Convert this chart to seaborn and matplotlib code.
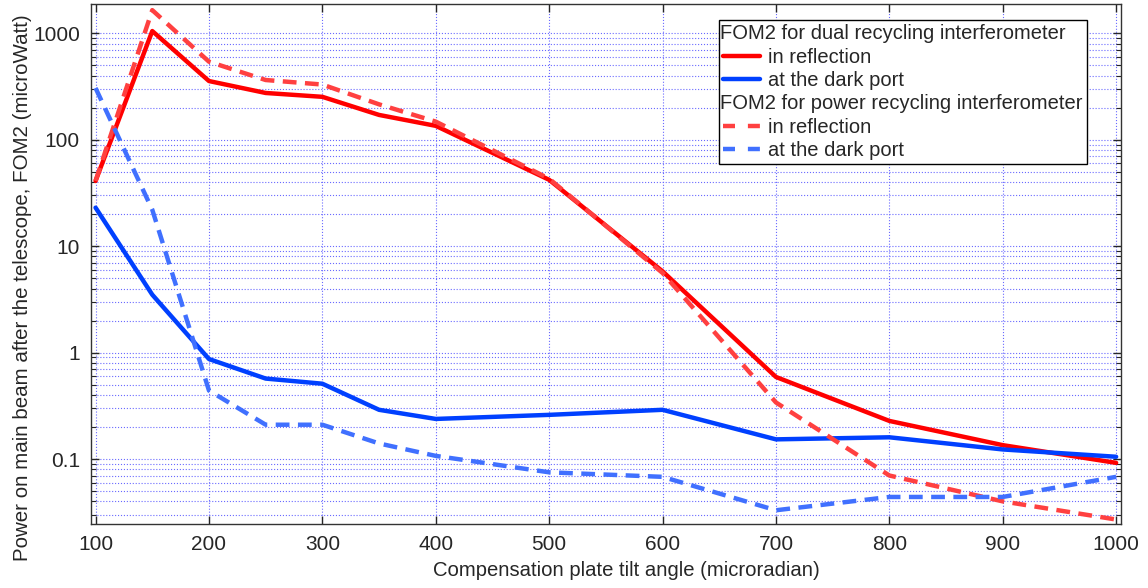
import numpy as np
import pandas as pd
import seaborn as sns
import matplotlib.pyplot as plt
from matplotlib.lines import Line2D
from matplotlib.ticker import LogLocator, FixedLocator, FuncFormatter, NullFormatter

# tilt angles (microradian)
tilt = [100, 150, 200, 250, 300, 350, 400, 500, 600, 700, 800, 900, 1000]

# FOM2, dual recycling interferometer
dual_refl = [41, 1050, 356, 275, 253, 171, 135, 42, 5.8, 0.59, 0.228, 0.135, 0.092]
dual_dark = [23, 3.5, 0.87, 0.57, 0.51, 0.29, 0.238, 0.26, 0.29, 0.153, 0.160, 0.123, 0.105]

# FOM2, power recycling interferometer
pr_refl = [41, 1650, 541, 364, 330, 215, 148, 43, 5.6, 0.34, 0.070, 0.040, 0.027]
pr_dark = [306, 22, 0.44, 0.21, 0.21, 0.14, 0.107, 0.075, 0.068, 0.033, 0.044, 0.044, 0.068]

sns.set_style("ticks")
plt.rcParams['font.family'] = ['Liberation Sans', 'DejaVu Sans']

fig = plt.figure(figsize=(11.48, 5.88), dpi=100)
ax = fig.add_axes([0.0793, 0.1088, 0.8969, 0.8844])

series = [
    (dual_refl, '#ff0000', '-'),
    (dual_dark, '#0040ff', '-'),
    (pr_refl, '#ff4040', '--'),
    (pr_dark, '#4070ff', '--'),
]
for vals, col, ls in series:
    sns.lineplot(x=tilt, y=vals, ax=ax, color=col, linewidth=3.2, linestyle=ls)

for line, (_, _, ls) in zip(ax.get_lines(), series):
    if ls == '--':
        line.set_dashes([3.1, 1.9])

ax.set_yscale('log')
ax.set_xlim(96, 1004)
ax.set_ylim(0.0245, 1885)

ax.xaxis.set_major_locator(FixedLocator(np.arange(100, 1001, 100)))
ax.yaxis.set_major_locator(FixedLocator([0.1, 1, 10, 100, 1000]))
ax.yaxis.set_minor_locator(LogLocator(base=10, subs=np.arange(2, 10)))
ax.yaxis.set_minor_formatter(NullFormatter())
ax.yaxis.set_major_formatter(FuncFormatter(lambda v, p: f"{v:g}"))

ax.tick_params(which='major', direction='in', length=6, width=1.0,
               top=True, right=True, labelsize=15, pad=8)
ax.tick_params(which='minor', direction='in', length=3.5, width=0.8,
               left=True, right=True)

ax.grid(True, which='major', color='#6a6aff', linestyle=':', linewidth=0.8)
ax.grid(True, which='minor', axis='y', color='#6a6aff', linestyle=':', linewidth=0.8)
ax.set_axisbelow(True)
for s in ax.spines.values():
    s.set_color('#333333')
    s.set_linewidth(1.0)

ax.set_xlabel("Compensation plate tilt angle (microradian)", fontsize=14.6)
ax.set_ylabel("Power on main beam after the telescope, FOM2 (microWatt)", fontsize=14.8)
ax.xaxis.set_label_coords(0.52, -0.071)
ax.yaxis.set_label_coords(-0.0573, 0.454)

blank = Line2D([], [], linestyle='none')
handles = [blank,
           Line2D([], [], color='#ff0000', linewidth=3.2),
           Line2D([], [], color='#0040ff', linewidth=3.2),
           blank,
           Line2D([], [], color='#ff4040', linewidth=3.2, dashes=[2.7, 2.9]),
           Line2D([], [], color='#4070ff', linewidth=3.2, dashes=[2.7, 2.9])]
labels = ["FOM2 for dual recycling interferometer", "in reflection", "at the dark port",
          "FOM2 for power recycling interferometer", "in reflection", "at the dark port"]
leg_fs = 14.5
leg = ax.legend(handles, labels, loc='upper right', bbox_to_anchor=(0.967, 0.969),
                fontsize=leg_fs, frameon=True, fancybox=False, framealpha=1,
                edgecolor='black', handlelength=1.85, handletextpad=0.4,
                labelspacing=0.22, borderpad=0.2, borderaxespad=0)
leg.get_frame().set_linewidth(1.0)

# header rows: drop the handle area so the text starts at the box edge
for vpack in leg._legend_handle_box.get_children():
    for i, hpack in enumerate(vpack.get_children()):
        if i in (0, 3):
            hpack.get_children()[0].set_width(-(0.4 * leg_fs) - 2)

fig.savefig("out.png", dpi=100)
